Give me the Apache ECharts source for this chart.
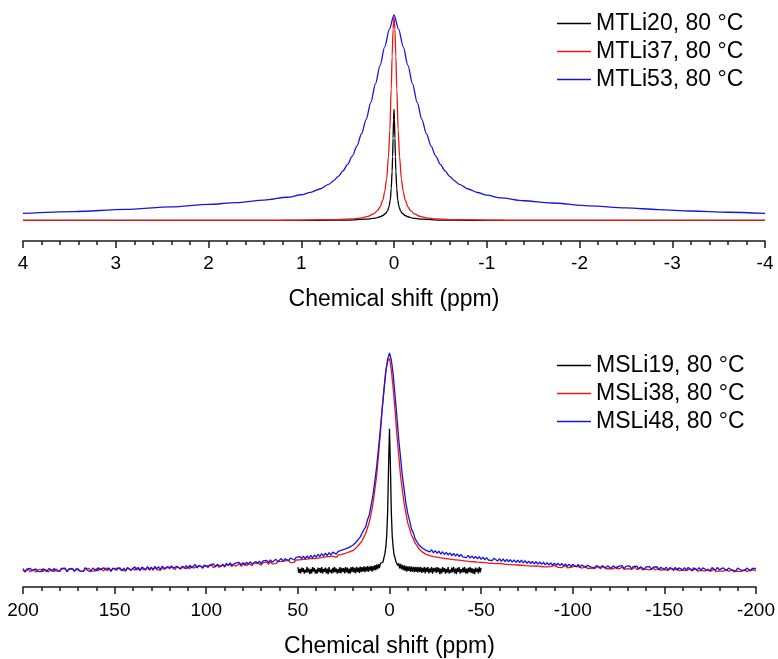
<!DOCTYPE html>
<html>
<head>
<meta charset="utf-8">
<script src="https://cdn.jsdelivr.net/npm/echarts@6/dist/echarts.min.js"></script>
<style>
  html, body { margin: 0; padding: 0; background: #ffffff; }
  #chart { width: 778px; height: 659px; }
</style>
</head>
<body>
<div id="chart"></div>
<script>
// 7Li NMR spectra at 80 °C, intensities normalised to the tallest line of each panel.

// ---- Upper panel: MTLi samples, [shift (ppm), intensity] ----
const mtli20 = [
  [4, 0], [2, 0], [1.2, 0], [0.8, 0.001], [0.5, 0.002], [0.3, 0.006], [0.2, 0.011], [0.15, 0.018],
  [0.12, 0.024], [0.09, 0.034], [0.07, 0.047], [0.055, 0.065], [0.04, 0.10], [0.03, 0.155],
  [0.02, 0.24], [0.015, 0.31], [0.01, 0.40], [0.005, 0.49], [0, 0.54],
  [-0.005, 0.49], [-0.01, 0.40], [-0.015, 0.31], [-0.02, 0.24], [-0.03, 0.155], [-0.04, 0.10],
  [-0.055, 0.065], [-0.07, 0.047], [-0.09, 0.034], [-0.12, 0.024], [-0.15, 0.018], [-0.2, 0.011],
  [-0.3, 0.006], [-0.5, 0.002], [-0.8, 0.001], [-1.2, 0], [-2, 0], [-4, 0]
];
const mtli37 = [
  [4, 0.0001], [3, 0.0002], [2, 0.0004], [1.2, 0.0011], [0.8, 0.0025], [0.6, 0.0045], [0.45, 0.008],
  [0.35, 0.013], [0.28, 0.02], [0.22, 0.032], [0.18, 0.047], [0.15, 0.066], [0.12, 0.10], [0.10, 0.14],
  [0.08, 0.20], [0.06, 0.31], [0.045, 0.44], [0.03, 0.64], [0.02, 0.80], [0.01, 0.93], [0, 0.99],
  [-0.01, 0.93], [-0.02, 0.80], [-0.03, 0.64], [-0.045, 0.44], [-0.06, 0.31], [-0.08, 0.20],
  [-0.10, 0.14], [-0.12, 0.10], [-0.15, 0.066], [-0.18, 0.047], [-0.22, 0.032], [-0.28, 0.02],
  [-0.35, 0.013], [-0.45, 0.008], [-0.6, 0.0045], [-0.8, 0.0025], [-1.2, 0.0011], [-2, 0.0004],
  [-3, 0.0002], [-4, 0.0001]
];
const mtli53 = [
  [4.0, 0.034], [3.45, 0.043], [2.9, 0.054], [2.4, 0.066], [2.0, 0.078], [1.7, 0.087], [1.4, 0.099],
  [1.15, 0.113], [1.0, 0.125], [0.9, 0.137], [0.8, 0.153], [0.7, 0.177], [0.65, 0.194], [0.6, 0.215],
  [0.55, 0.241], [0.5, 0.273], [0.45, 0.313], [0.4, 0.362], [0.35, 0.422], [0.3, 0.492], [0.25, 0.575],
  [0.2, 0.665], [0.15, 0.755], [0.1, 0.845], [0.05, 0.930], [0, 1.0],
  [-0.05, 0.930], [-0.1, 0.845], [-0.15, 0.755], [-0.2, 0.665], [-0.25, 0.575], [-0.3, 0.492],
  [-0.35, 0.422], [-0.4, 0.362], [-0.45, 0.313], [-0.5, 0.273], [-0.55, 0.241], [-0.6, 0.215],
  [-0.65, 0.194], [-0.7, 0.177], [-0.8, 0.153], [-0.9, 0.136], [-1.0, 0.123], [-1.15, 0.110],
  [-1.4, 0.096], [-1.7, 0.085], [-2.1, 0.071], [-2.5, 0.061], [-2.85, 0.053], [-3.2, 0.046],
  [-3.6, 0.040], [-4.0, 0.034]
];

// ---- Lower panel: MSLi samples, intensities on a regular shift grid ----
// MSLi38 / MSLi48: from +200 ppm down to -200 ppm in 1 ppm steps
const wideStart = 200;
const wideStep = 1;
const msli48 = [
  0.010, -0.005, 0.007, -0.002, 0.011, 0.000, -0.006, 0.008, -0.003, 0.006,
  -0.004, 0.009, 0.001, -0.005, 0.010, 0.004, -0.003, 0.011, -0.001, 0.007,
  -0.002, 0.011, 0.002, 0.012, -0.004, 0.008, 0.000, 0.010, -0.003, 0.009,
  0.013, -0.001, 0.008, -0.003, 0.014, 0.002, 0.010, -0.004, 0.012, 0.003,
  -0.001, 0.014, 0.004, -0.002, 0.013, 0.016, 0.001, 0.011, -0.003, 0.012,
  0.015, 0.002, 0.013, 0.017, 0.000, 0.012, -0.001, 0.014, 0.016, 0.003,
  0.005, 0.018, 0.004, 0.015, 0.001, 0.017, 0.012, 0.003, 0.019, 0.006,
  0.016, 0.004, 0.020, 0.008, 0.018, 0.005, 0.021, 0.010, 0.006, 0.019,
  0.008, 0.022, 0.012, 0.006, 0.020, 0.024, 0.009, 0.021, 0.011, 0.023,
  0.010, 0.025, 0.014, 0.022, 0.028, 0.012, 0.024, 0.027, 0.015, 0.026,
  0.030, 0.015, 0.027, 0.018, 0.031, 0.017, 0.029, 0.033, 0.019, 0.030,
  0.020, 0.034, 0.023, 0.036, 0.025, 0.021, 0.035, 0.026, 0.038, 0.027,
  0.037, 0.025, 0.039, 0.029, 0.041, 0.031, 0.027, 0.042, 0.032, 0.044,
  0.032, 0.045, 0.036, 0.047, 0.037, 0.050, 0.039, 0.048, 0.053, 0.041,
  0.044, 0.056, 0.043, 0.055, 0.059, 0.046, 0.058, 0.062, 0.049, 0.061,
  0.052, 0.065, 0.055, 0.067, 0.054, 0.068, 0.057, 0.070, 0.059, 0.072,
  0.062, 0.075, 0.065, 0.078, 0.067, 0.081, 0.069, 0.083, 0.072, 0.085,
  0.086, 0.076, 0.089, 0.081, 0.094, 0.085, 0.100, 0.092, 0.107, 0.102,
  0.117, 0.116, 0.133, 0.134, 0.154, 0.161, 0.188, 0.201, 0.234, 0.257,
  0.302, 0.348, 0.412, 0.478, 0.562, 0.648, 0.743, 0.828, 0.912, 0.972,
  1.000,
  0.968, 0.903, 0.808, 0.712, 0.607, 0.523, 0.438, 0.372, 0.308, 0.262,
  0.229, 0.191, 0.175, 0.146, 0.140, 0.119, 0.120, 0.103, 0.106, 0.093,
  0.100, 0.086, 0.096, 0.082, 0.092, 0.079, 0.090, 0.076, 0.087, 0.074,
  0.084, 0.072, 0.082, 0.069, 0.079, 0.067, 0.077, 0.065, 0.075, 0.063,
  0.072, 0.060, 0.070, 0.058, 0.068, 0.056, 0.066, 0.054, 0.064, 0.052,
  0.062, 0.050, 0.060, 0.049, 0.058, 0.046, 0.057, 0.048, 0.044, 0.055,
  0.043, 0.054, 0.042, 0.052, 0.041, 0.051, 0.039, 0.050, 0.038, 0.048,
  0.037, 0.048, 0.036, 0.046, 0.034, 0.044, 0.033, 0.043, 0.031, 0.041,
  0.030, 0.040, 0.029, 0.039, 0.027, 0.037, 0.026, 0.036, 0.025, 0.035,
  0.024, 0.034, 0.023, 0.033, 0.021, 0.031, 0.020, 0.030, 0.019, 0.029,
  0.027, 0.017, 0.029, 0.016, 0.026, 0.030, 0.015, 0.025, 0.028, 0.016,
  0.025, 0.014, 0.024, 0.027, 0.013, 0.023, 0.026, 0.012, 0.022, 0.025,
  0.011, 0.022, 0.024, 0.010, 0.021, 0.013, 0.023, 0.009, 0.020, 0.012,
  0.022, 0.008, 0.019, 0.011, 0.021, 0.007, 0.018, 0.020, 0.006, 0.017,
  0.009, 0.019, 0.005, 0.016, 0.008, 0.018, 0.004, 0.015, 0.017, 0.006,
  0.016, 0.003, 0.014, 0.017, 0.005, 0.015, 0.002, 0.013, 0.016, 0.004,
  0.014, 0.003, 0.015, 0.006, 0.001, 0.013, 0.016, 0.004, 0.014, 0.002,
  0.013, 0.015, 0.003, 0.012, 0.000, 0.014, 0.005, 0.002, 0.015, 0.004,
  0.001, 0.013, 0.011, 0.000, 0.012, 0.014, 0.002, 0.011, -0.001, 0.012,
  0.013, 0.002, 0.010, 0.000, 0.012, 0.003, -0.001, 0.011, 0.002, 0.010
];
const msli38 = [
  0.005, -0.006, 0.003, 0.007, -0.005, 0.001, 0.006, -0.007, 0.004, -0.003,
  0.006, -0.005, 0.007, -0.002, -0.006, 0.008, 0.000, -0.004, 0.007, 0.002,
  -0.004, 0.008, 0.001, 0.009, -0.005, 0.005, -0.001, 0.009, -0.003, 0.006,
  0.010, -0.002, 0.006, -0.003, 0.009, 0.001, 0.011, -0.001, 0.008, -0.002,
  0.009, -0.001, 0.011, 0.002, -0.002, 0.010, 0.003, 0.012, -0.001, 0.009,
  0.000, 0.011, 0.003, 0.013, 0.001, 0.010, -0.001, 0.012, 0.004, 0.001,
  0.012, 0.002, 0.013, 0.004, 0.001, 0.014, 0.003, 0.012, 0.015, 0.002,
  0.013, 0.003, 0.015, 0.005, 0.014, 0.002, 0.016, 0.006, 0.004, 0.015,
  0.006, 0.017, 0.008, 0.005, 0.018, 0.009, 0.007, 0.019, 0.010, 0.008,
  0.019, 0.009, 0.021, 0.011, 0.008, 0.020, 0.012, 0.022, 0.010, 0.021,
  0.012, 0.023, 0.014, 0.025, 0.013, 0.022, 0.026, 0.015, 0.024, 0.027,
  0.016, 0.027, 0.018, 0.029, 0.019, 0.030, 0.020, 0.028, 0.032, 0.021,
  0.030, 0.033, 0.022, 0.034, 0.025, 0.023, 0.035, 0.026, 0.036, 0.027,
  0.026, 0.037, 0.028, 0.039, 0.029, 0.041, 0.031, 0.040, 0.032, 0.042,
  0.033, 0.043, 0.035, 0.045, 0.036, 0.047, 0.037, 0.046, 0.038, 0.049,
  0.040, 0.050, 0.042, 0.052, 0.043, 0.053, 0.045, 0.055, 0.046, 0.056,
  0.048, 0.058, 0.050, 0.060, 0.053, 0.063, 0.055, 0.065, 0.058, 0.067,
  0.068, 0.061, 0.071, 0.066, 0.075, 0.069, 0.080, 0.075, 0.086, 0.083,
  0.092, 0.096, 0.106, 0.112, 0.126, 0.136, 0.155, 0.171, 0.197, 0.224,
  0.262, 0.309, 0.372, 0.438, 0.532, 0.628, 0.742, 0.838, 0.921, 0.963,
  0.975,
  0.922, 0.838, 0.742, 0.628, 0.533, 0.438, 0.372, 0.308, 0.262, 0.218,
  0.192, 0.163, 0.147, 0.126, 0.116, 0.101, 0.096, 0.085, 0.083, 0.075,
  0.079, 0.069, 0.076, 0.065, 0.072, 0.062, 0.070, 0.059, 0.067, 0.056,
  0.063, 0.054, 0.061, 0.052, 0.059, 0.050, 0.057, 0.048, 0.055, 0.046,
  0.053, 0.044, 0.051, 0.042, 0.050, 0.041, 0.048, 0.039, 0.047, 0.038,
  0.045, 0.037, 0.044, 0.035, 0.043, 0.034, 0.041, 0.032, 0.040, 0.033,
  0.039, 0.031, 0.038, 0.029, 0.037, 0.028, 0.035, 0.027, 0.034, 0.026,
  0.033, 0.025, 0.032, 0.023, 0.031, 0.022, 0.030, 0.021, 0.028, 0.022,
  0.029, 0.020, 0.027, 0.018, 0.026, 0.017, 0.025, 0.019, 0.016, 0.024,
  0.022, 0.015, 0.023, 0.014, 0.021, 0.024, 0.013, 0.021, 0.015, 0.014,
  0.021, 0.012, 0.019, 0.022, 0.011, 0.018, 0.020, 0.010, 0.018, 0.012,
  0.019, 0.010, 0.017, 0.020, 0.009, 0.016, 0.018, 0.008, 0.017, 0.010,
  0.016, 0.008, 0.015, 0.018, 0.007, 0.014, 0.016, 0.006, 0.015, 0.009,
  0.014, 0.006, 0.013, 0.016, 0.005, 0.012, 0.014, 0.004, 0.013, 0.007,
  0.012, 0.004, 0.011, 0.013, 0.003, 0.010, 0.012, 0.002, 0.010, 0.005,
  0.011, 0.002, 0.009, 0.011, 0.001, 0.008, 0.010, 0.000, 0.008, 0.003,
  0.009, 0.000, 0.007, 0.009, -0.001, 0.006, 0.008, -0.002, 0.006, 0.001,
  0.007, -0.002, 0.005, 0.007, -0.003, 0.004, 0.006, -0.004, 0.005, -0.001,
  0.006, -0.003, 0.004, 0.006, -0.004, 0.003, 0.005, -0.005, 0.004, -0.002,
  0.005, -0.004, 0.003, 0.005, -0.005, 0.002, 0.004, -0.004, 0.003, -0.003
];
// MSLi19: from +50 ppm down to -50 ppm in 0.5 ppm steps
const narrowStart = 50;
const narrowStep = 0.5;
const msli19 = [
  0.016, -0.010, 0.008, -0.013, 0.014, -0.005, 0.012, -0.014, 0.004, -0.009,
  0.017, -0.008, 0.010, -0.016, 0.007, -0.012, 0.016, -0.004, 0.013, -0.013,
  0.005, -0.014, 0.014, -0.007, 0.012, -0.010, 0.017, -0.013, 0.008, -0.005,
  0.014, -0.012, 0.009, -0.016, 0.016, -0.008, 0.005, -0.013, 0.013, -0.009,
  0.017, -0.007, 0.010, -0.014, 0.008, -0.010, 0.016, -0.012, 0.013, -0.005,
  0.012, -0.013, 0.017, -0.008, 0.014, -0.012, 0.009, -0.014, 0.016, -0.007,
  0.018, -0.008, 0.013, -0.012, 0.017, -0.005, 0.014, -0.010, 0.019, -0.007,
  0.016, -0.004, 0.020, -0.007, 0.017, -0.003, 0.021, -0.005, 0.019, 0.000,
  0.022, -0.004, 0.021, 0.001, 0.025, 0.003, 0.028, 0.007, 0.030, 0.012,
  0.033, 0.024, 0.042, 0.040, 0.061, 0.078, 0.109, 0.163, 0.272, 0.481,
  0.652,
  0.478, 0.268, 0.158, 0.108, 0.072, 0.060, 0.041, 0.043, 0.024, 0.034,
  0.011, 0.031, 0.007, 0.027, 0.002, 0.024, -0.001, 0.022, -0.005, 0.020,
  -0.001, 0.020, -0.006, 0.019, -0.004, 0.018, -0.007, 0.017, -0.005, 0.018,
  -0.008, 0.016, -0.006, 0.018, -0.010, 0.013, -0.007, 0.017, -0.012, 0.014,
  -0.005, 0.016, -0.013, 0.010, -0.008, 0.017, -0.014, 0.012, -0.004, 0.014,
  -0.010, 0.016, -0.007, 0.013, -0.016, 0.009, -0.012, 0.017, -0.005, 0.012,
  -0.014, 0.008, -0.009, 0.016, -0.013, 0.005, -0.010, 0.014, -0.007, 0.017,
  -0.012, 0.010, -0.016, 0.013, -0.005, 0.016, -0.013, 0.007, -0.009, 0.014,
  -0.008, 0.017, -0.012, 0.009, -0.014, 0.013, -0.007, 0.016, -0.010, 0.012,
  -0.013, 0.008, -0.016, 0.014, -0.005, 0.010, -0.012, 0.017, -0.008, 0.013
];

// Axis tick settings
const upperTicks = { min: -4, max: 4, interval: 1, minorSplit: 5 };
const lowerTicks = { min: -200, max: 200, interval: 50, minorSplit: 5 };

const axisTitle = 'Chemical shift (ppm)';
const upperNames = ['MTLi20, 80 °C', 'MTLi37, 80 °C', 'MTLi53, 80 °C'];
const lowerNames = ['MSLi19, 80 °C', 'MSLi38, 80 °C', 'MSLi48, 80 °C'];

const lineColors = ['#000000', '#ec1616', '#1616dc'];
const FONT = '"Liberation Sans", Arial, Helvetica, sans-serif';
const AXIS_COLOR = '#1a1a1a';

function onGrid(start, step, values) {
  return values.map((v, i) => [start - i * step, v]);
}

function makeXAxis(gridIndex, ticks, labelMargin, nameGap) {
  return {
    gridIndex: gridIndex,
    type: 'value',
    inverse: true,
    min: ticks.min,
    max: ticks.max,
    interval: ticks.interval,
    position: 'bottom',
    axisLine: { show: true, onZero: false, lineStyle: { color: AXIS_COLOR, width: 1.5 } },
    axisTick: { show: true, inside: false, length: 7, lineStyle: { color: AXIS_COLOR, width: 1.5 } },
    minorTick: { show: true, splitNumber: ticks.minorSplit, length: 4, lineStyle: { color: AXIS_COLOR, width: 1.5 } },
    splitLine: { show: false },
    minorSplitLine: { show: false },
    axisLabel: { color: '#000', fontSize: 19, fontFamily: FONT, margin: labelMargin },
    name: axisTitle,
    nameLocation: 'middle',
    nameGap: nameGap,
    nameTextStyle: { color: '#000', fontSize: 23, fontFamily: FONT }
  };
}

function makeLegend(names, top) {
  return {
    data: names,
    orient: 'vertical',
    left: 557,
    top: top,
    padding: 0,
    itemGap: 5,
    itemWidth: 34,
    itemHeight: 1.5,
    icon: 'rect',
    textStyle: { color: '#000', fontSize: 23, fontFamily: FONT, lineHeight: 23 },
    selectedMode: false
  };
}

function lineSeries(name, colorIndex, axisIndex, data, smooth) {
  return {
    name: name,
    type: 'line',
    xAxisIndex: axisIndex,
    yAxisIndex: axisIndex,
    data: data,
    symbol: 'none',
    showSymbol: false,
    smooth: smooth,
    smoothMonotone: smooth ? 'x' : undefined,
    clip: false,
    color: lineColors[colorIndex],
    lineStyle: { color: lineColors[colorIndex], width: 1.3 },
    emphasis: { disabled: true }
  };
}

const chart = echarts.init(document.getElementById('chart'), null, { renderer: 'canvas' });
chart.setOption({
  animation: false,
  backgroundColor: '#ffffff',
  grid: [
    { left: 23, right: 13, top: 15, bottom: 418 },
    { left: 23, right: 18, top: 353, bottom: 71 }
  ],
  xAxis: [
    makeXAxis(0, upperTicks, 13, 47),
    makeXAxis(1, lowerTicks, 14, 48)
  ],
  yAxis: [
    { gridIndex: 0, type: 'value', min: -0.1, max: 1.0, show: false },
    { gridIndex: 1, type: 'value', min: -0.075, max: 1.0, show: false }
  ],
  legend: [
    makeLegend(upperNames, 12),
    makeLegend(lowerNames, 354)
  ],
  series: [
    lineSeries(upperNames[0], 0, 0, mtli20, 0.3),
    lineSeries(upperNames[1], 1, 0, mtli37, 0.3),
    lineSeries(upperNames[2], 2, 0, mtli53, 0.3),
    lineSeries(lowerNames[0], 0, 1, onGrid(narrowStart, narrowStep, msli19), false),
    lineSeries(lowerNames[1], 1, 1, onGrid(wideStart, wideStep, msli38), false),
    lineSeries(lowerNames[2], 2, 1, onGrid(wideStart, wideStep, msli48), false)
  ]
});
</script>
</body>
</html>
